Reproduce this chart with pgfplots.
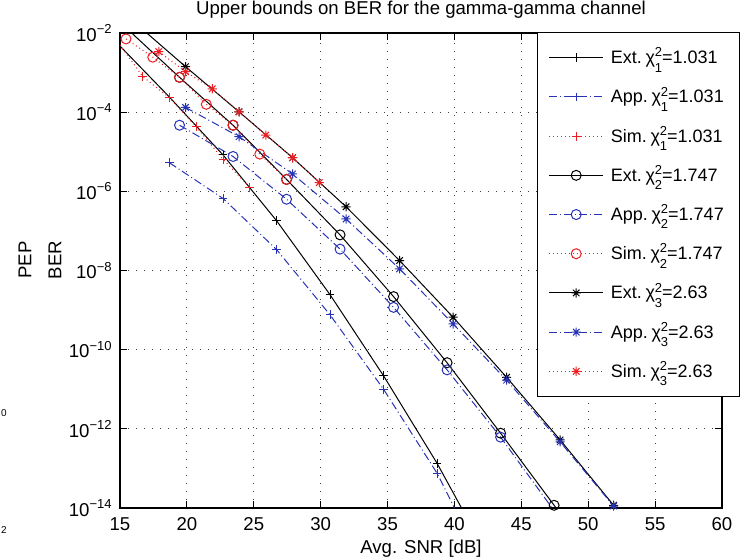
\documentclass[border=0pt]{standalone}
\usepackage{fontspec}
\setmainfont{Liberation Sans}
\usepackage{pgfplots}
\pgfplotsset{compat=1.18}

\definecolor{mblue}{RGB}{40,50,180}
\definecolor{mred}{RGB}{235,30,35}

% matlab style '*' marker: a plus and a cross
\pgfdeclareplotmark{mstar}{%
  \pgfpathmoveto{\pgfqpoint{-\pgfplotmarksize}{0pt}}\pgfpathlineto{\pgfqpoint{\pgfplotmarksize}{0pt}}%
  \pgfpathmoveto{\pgfqpoint{0pt}{-\pgfplotmarksize}}\pgfpathlineto{\pgfqpoint{0pt}{\pgfplotmarksize}}%
  \pgfpathmoveto{\pgfqpoint{-.707\pgfplotmarksize}{-.707\pgfplotmarksize}}\pgfpathlineto{\pgfqpoint{.707\pgfplotmarksize}{.707\pgfplotmarksize}}%
  \pgfpathmoveto{\pgfqpoint{-.707\pgfplotmarksize}{.707\pgfplotmarksize}}\pgfpathlineto{\pgfqpoint{.707\pgfplotmarksize}{-.707\pgfplotmarksize}}%
  \pgfusepathqstroke}

\newcommand\chisq[1]{\hspace{0.2em}χ\rlap{\raisebox{3.4pt}{\fontsize{6.5}{7}\selectfont 2}}\raisebox{-4.2pt}{\fontsize{6.5}{7}\selectfont #1}}

\pgfplotsset{
  ext/.style={black, solid, line width=0.5pt, mark options={solid}},
  app/.style={mblue, line width=0.5pt, dash pattern=on 4pt off 1.5pt on 0.5pt off 1.5pt, mark options={solid}},
  sim/.style={mred, line width=0.5pt, dash pattern=on 0.5pt off 1.5pt, mark options={solid}},
  m1/.style={mark=+, mark size=2.2pt},
  m2/.style={mark=o, mark size=2.5pt},
  m3/.style={mark=mstar, mark size=2.3pt},
}

\begin{document}
\fontsize{9.3}{11.2}\selectfont
\begin{tikzpicture}
\useasboundingbox (-60pt,-26pt) rectangle (315.5pt,254pt);
\begin{axis}[
    scale only axis, width=301pt, height=237.5pt,
    xmin=15, xmax=60, ymode=log, ymin=1e-14, ymax=1e-2,
    xtick={15,20,...,60},
    ytick={1e-14,1e-12,1e-10,1e-8,1e-6,1e-4,1e-2},
    yticklabels={10\textsuperscript{−14},10\textsuperscript{−12},10\textsuperscript{−10},10\textsuperscript{−8},10\textsuperscript{−6},10\textsuperscript{−4},10\textsuperscript{−2}},
    yminorticks=false,
    tick align=inside, major tick length=3.5pt,
    every tick/.style={black, line width=0.5pt},
    axis line style={line width=0.6pt},
    grid=major,
    grid style={black!75, line width=0.5pt, dash pattern=on 0.6pt off 3.4pt},
    /pgf/number format/assume math mode=true,
    xticklabel style={anchor=base, yshift=-11.5pt, inner sep=0pt},
    yticklabel style={inner sep=0pt, xshift=-3.5pt},
    title={Upper bounds on BER for the gamma-gamma channel},
    title style={at={(0.5,1)}, anchor=base, yshift=3pt, inner sep=0pt},
    xlabel={Avg. SNR [dB]},
    xlabel style={at={(0.5,0)}, anchor=base, yshift=-23pt, inner sep=0pt},
    ylabel={BER},
    ylabel style={at={(-0.108,0.522)}, anchor=center, inner sep=0pt},
    legend image code/.code={\draw[mark repeat=2,mark phase=2,#1] plot coordinates {(0pt,0pt) (13.6pt,0pt) (27.2pt,0pt)};},
    legend cell align=left,
    legend style={at={(0.6927,1.002)}, anchor=north west, draw=black, line width=0.5pt,
        fill=white, inner xsep=5.5pt, inner ysep=6.6pt, row sep=7.6pt, column sep=3.5pt,
        font=\fontsize{9}{11}\selectfont,
        nodes={inner sep=0pt, text height=9pt, text depth=3pt, text width=59pt, align=left}},
]

% chi_1^2 = 1.031
\addplot[ext, m1, mark indices={2,3,4,5,6,7}, forget plot] coordinates {
    (15,4.68e-3) (18.7,2.40e-4) (22.7,8.32e-6) (26.7,1.82e-7) (30.7,2.45e-9)
    (34.7,2.19e-11) (38.7,1.35e-13) (40.53,1e-14)};
\addplot[app, m1, mark indices={1,2,3,4,5,6}, forget plot] coordinates {
    (18.7,5.25e-6) (22.7,6.61e-7) (26.7,3.39e-8) (30.7,7.59e-10)
    (34.7,1.0e-11) (38.7,7.59e-14) (40.0,1e-14)};
\addplot[sim, m1, mark indices={2,3,4,5,6}, forget plot] coordinates {
    (15,5.0e-3) (16.7,7.94e-4) (18.7,2.30e-4) (20.7,4.27e-5) (22.7,6.46e-6) (24.7,1.26e-6)};

% chi_2^2 = 1.747
\addplot[ext, m2, mark indices={2,3,4,5,6,7,8,9}, forget plot] coordinates {
    (15.87,1e-2) (19.45,7.59e-4) (23.45,4.68e-5) (27.45,2.0e-6) (31.45,7.94e-8)
    (35.45,2.19e-9) (39.45,4.68e-11) (43.45,7.76e-13) (47.45,1.17e-14) (47.6,1e-14)};
\addplot[app, m2, mark indices={1,2,3,4,5,6,7}, forget plot] coordinates {
    (19.45,4.68e-5) (23.45,7.59e-6) (27.45,6.31e-7) (31.45,3.47e-8)
    (35.45,1.17e-9) (39.45,3.09e-11) (43.45,6.17e-13) (47.3,1e-14)};
\addplot[sim, m2, forget plot] coordinates {
    (15.45,7.08e-3) (17.45,2.45e-3) (19.45,7.59e-4) (21.45,1.58e-4)
    (23.45,4.68e-5) (25.45,8.71e-6) (27.45,2.0e-6)};

% chi_3^2 = 2.63
\addplot[ext, m3, mark indices={2,3,4,5,6,7,8,9,10}, forget plot] coordinates {
    (17.0,1e-2) (19.9,1.41e-3) (23.9,1.02e-4) (27.9,7.08e-6) (31.9,4.07e-7)
    (35.9,1.78e-8) (39.9,6.61e-10) (43.9,2.0e-11) (47.9,5.25e-13) (51.9,1.17e-14) (52.05,1e-14)};
\addplot[app, m3, mark indices={1,2,3,4,5,6,7,8,9}, forget plot] coordinates {
    (19.9,1.32e-4) (23.9,2.40e-5) (27.9,2.75e-6) (31.9,2.0e-7) (35.9,1.10e-8)
    (39.9,4.47e-10) (43.9,1.70e-11) (47.9,4.68e-13) (51.9,1.12e-14) (52.0,1e-14)};
\addplot[sim, m3, forget plot] coordinates {
    (17.9,3.39e-3) (19.9,1.05e-3) (21.9,3.89e-4) (23.9,1.02e-4)
    (25.9,2.63e-5) (27.9,7.08e-6) (29.9,1.66e-6)};

\addlegendimage{ext,m1}\addlegendentry{Ext.\chisq{1}=1.031}
\addlegendimage{app,m1}\addlegendentry{App.\chisq{1}=1.031}
\addlegendimage{sim,m1}\addlegendentry{Sim.\chisq{1}=1.031}
\addlegendimage{ext,m2}\addlegendentry{Ext.\chisq{2}=1.747}
\addlegendimage{app,m2}\addlegendentry{App.\chisq{2}=1.747}
\addlegendimage{sim,m2}\addlegendentry{Sim.\chisq{2}=1.747}
\addlegendimage{ext,m3}\addlegendentry{Ext.\chisq{3}=2.63}
\addlegendimage{app,m3}\addlegendentry{App.\chisq{3}=2.63}
\addlegendimage{sim,m3}\addlegendentry{Sim.\chisq{3}=2.63}
\end{axis}
\node[rotate=90, inner sep=0pt] at (-47.5pt,124pt) {PEP};
\node[font=\fontsize{5}{6}\selectfont, inner sep=0pt] at (-58pt,47.5pt) {0};
\node[font=\fontsize{5}{6}\selectfont, inner sep=0pt] at (-58pt,-11pt) {2};
\end{tikzpicture}
\end{document}
